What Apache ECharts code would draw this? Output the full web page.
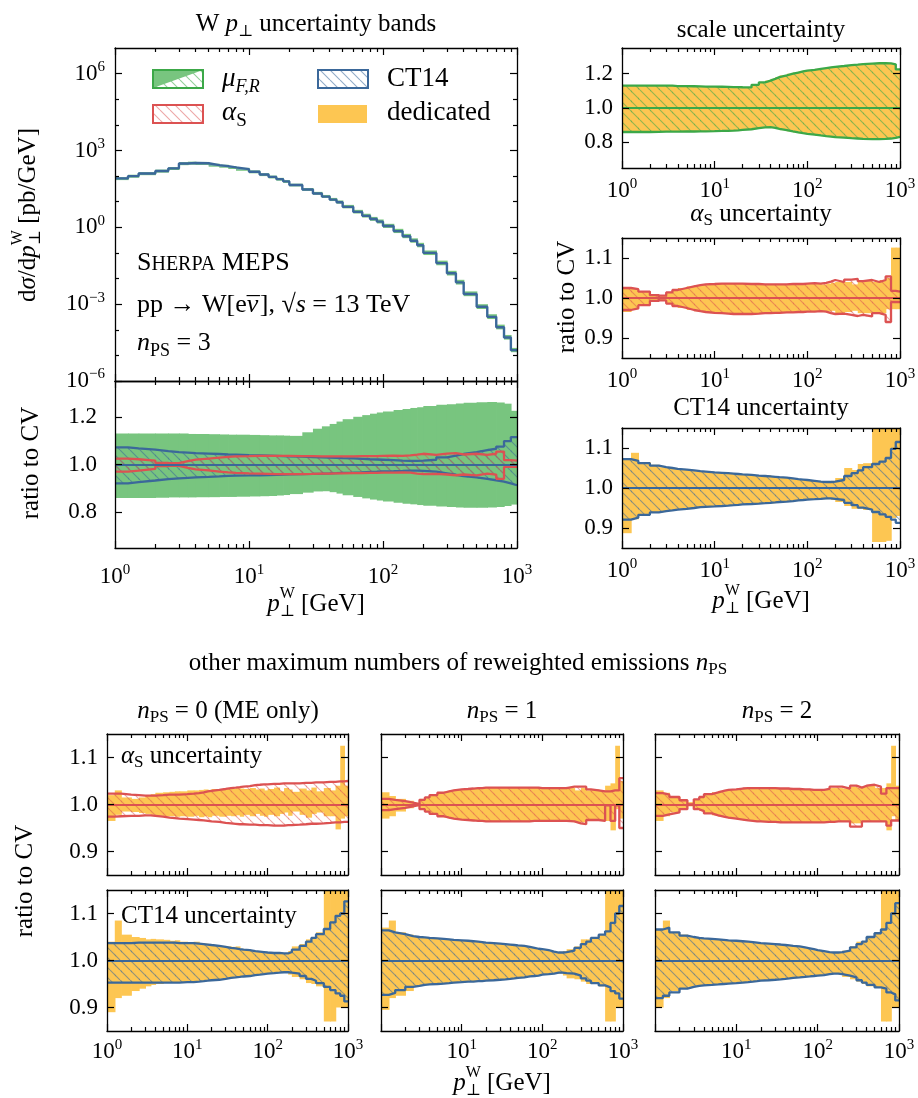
<!DOCTYPE html>
<html><head><meta charset="utf-8">
<script src="https://cdn.jsdelivr.net/npm/echarts@6.0.0/dist/echarts.min.js"></script>
<style>html,body{margin:0;padding:0;background:#fff}#c{width:918px;height:1098px}</style>
</head><body><div id="c"></div><script>
// ---------------- DATA ----------------
const edges = [1,1.25,1.5,2,2.5,3,3.5,4,5,6,7,8,10,12,14,16,18,20,25,30,35,40,45,50,60,70,80,90,100,120,140,160,180,200,250,300,350,400,500,600,700,800,900,1000];
const xMajorTicks = [1,10,100,1000];
const xMinorTicks = [2,3,4,5,6,7,8,9,20,30,40,50,60,70,80,90,200,300,400,500,600,700,800,900];
const yMainMajor = [1e-6,1e-3,1,1e3,1e6];
const yMainMinor = [1e-5,1e-4,1e-2,1e-1,10,100,1e4,1e5];
const yWideTicks = [0.8,1.0,1.2];
const yNarrowTicks = [0.9,1.0,1.1];

// cross section (pb/GeV), n_PS = 3
const xsec = [81,100,126,158,200,309,324,316,269,245,219,186,148,115,93,76,62,45,30,21,15.8,12,9.5,6.3,4.0,2.8,2.1,1.66,1.12,0.71,0.45,0.3,0.2,0.1,0.04,0.016,0.0071,0.0025,7.9e-4,3.2e-4,1.26e-4,5.0e-5,1.6e-5];

// n_PS = 3
const scaleHi3 = [1.13,1.13,1.13,1.13,1.13,1.13,1.128,1.128,1.127,1.126,1.125,1.125,1.124,1.123,1.122,1.122,1.121,1.12,1.135,1.15,1.16,1.17,1.18,1.19,1.2,1.207,1.213,1.218,1.222,1.228,1.233,1.237,1.24,1.245,1.25,1.253,1.256,1.259,1.261,1.262,1.26,1.255,1.225];
const scaleLo3 = [0.86,0.86,0.86,0.861,0.862,0.862,0.862,0.863,0.863,0.864,0.864,0.865,0.866,0.867,0.868,0.87,0.872,0.876,0.882,0.887,0.888,0.884,0.878,0.871,0.864,0.858,0.853,0.849,0.845,0.84,0.836,0.833,0.83,0.827,0.824,0.822,0.82,0.819,0.819,0.82,0.822,0.826,0.832];
const dedScaleHi3 = [1.13,1.13,1.13,1.13,1.13,1.13,1.128,1.128,1.127,1.126,1.125,1.125,1.124,1.123,1.122,1.122,1.121,1.12,1.135,1.15,1.16,1.17,1.18,1.19,1.2,1.207,1.213,1.218,1.222,1.228,1.233,1.237,1.24,1.245,1.25,1.253,1.256,1.259,1.261,1.262,1.26,1.255,1.225];
const dedScaleLo3 = [0.86,0.86,0.86,0.861,0.862,0.862,0.862,0.863,0.863,0.864,0.864,0.865,0.866,0.867,0.868,0.87,0.872,0.876,0.882,0.887,0.888,0.884,0.878,0.871,0.864,0.858,0.853,0.849,0.845,0.84,0.836,0.833,0.83,0.827,0.824,0.822,0.82,0.819,0.819,0.82,0.822,0.826,0.832];
const asA3 = [1.025,1.022,1.016,1.007,0.994,0.986,0.98,0.975,0.97,0.967,0.965,0.963,0.962,0.961,0.96,0.96,0.96,0.96,0.961,0.962,0.962,0.963,0.963,0.964,0.964,0.965,0.965,0.966,0.966,0.967,0.966,0.962,0.96,0.961,0.958,0.955,0.958,0.954,0.962,0.958,0.94,0.99,0.99];
const asB3 = [0.97,0.974,0.982,0.993,1.006,1.014,1.02,1.025,1.029,1.032,1.034,1.035,1.036,1.036,1.036,1.036,1.036,1.035,1.035,1.034,1.034,1.034,1.034,1.034,1.035,1.035,1.035,1.036,1.037,1.036,1.038,1.041,1.045,1.04,1.046,1.048,1.042,1.045,1.04,1.045,1.054,1.018,1.016];
const dedAsLo3 = [0.965,0.972,0.982,0.993,0.994,0.986,0.98,0.975,0.97,0.967,0.965,0.963,0.962,0.961,0.96,0.96,0.96,0.96,0.961,0.962,0.962,0.963,0.963,0.964,0.964,0.965,0.965,0.966,0.966,0.967,0.966,0.966,0.968,0.961,0.965,0.968,0.962,0.962,0.962,0.962,0.972,0.972,0.972];
const dedAsHi3 = [1.027,1.024,1.017,1.008,1.006,1.014,1.02,1.025,1.029,1.032,1.034,1.035,1.036,1.036,1.036,1.036,1.036,1.035,1.035,1.034,1.034,1.034,1.034,1.034,1.035,1.035,1.035,1.036,1.037,1.036,1.034,1.036,1.038,1.04,1.04,1.034,1.042,1.045,1.04,1.045,1.05,1.126,1.126];
const ctHi3 = [1.072,1.068,1.062,1.056,1.052,1.05,1.048,1.046,1.044,1.042,1.041,1.039,1.038,1.037,1.036,1.035,1.034,1.033,1.031,1.03,1.029,1.028,1.027,1.026,1.024,1.022,1.021,1.02,1.018,1.016,1.015,1.015,1.016,1.02,1.03,1.037,1.044,1.052,1.06,1.066,1.075,1.098,1.115];
const ctLo3 = [0.921,0.926,0.933,0.939,0.942,0.944,0.946,0.948,0.95,0.952,0.953,0.954,0.955,0.956,0.957,0.958,0.959,0.96,0.961,0.962,0.963,0.964,0.965,0.966,0.967,0.969,0.97,0.971,0.972,0.973,0.974,0.974,0.973,0.97,0.963,0.957,0.951,0.946,0.94,0.934,0.928,0.921,0.913];
const dedCtLo3 = [0.887,0.922,0.935,0.938,0.942,0.944,0.946,0.948,0.95,0.952,0.953,0.954,0.955,0.956,0.957,0.958,0.959,0.96,0.961,0.962,0.963,0.962,0.965,0.966,0.967,0.969,0.97,0.971,0.972,0.973,0.972,0.972,0.97,0.965,0.955,0.948,0.948,0.945,0.865,0.865,0.868,0.925,0.93];
const dedCtHi3 = [1.072,1.088,1.065,1.058,1.052,1.05,1.048,1.046,1.044,1.042,1.041,1.039,1.038,1.037,1.036,1.035,1.034,1.033,1.031,1.03,1.032,1.028,1.027,1.026,1.024,1.022,1.021,1.02,1.018,1.016,1.015,1.015,1.018,1.025,1.05,1.045,1.06,1.062,1.15,1.15,1.15,1.15,1.15];

// n_PS = 0
const asHi0 = [1.023,1.023,1.021,1.02,1.019,1.019,1.019,1.02,1.021,1.021,1.021,1.022,1.023,1.024,1.026,1.028,1.029,1.031,1.033,1.035,1.036,1.037,1.038,1.039,1.041,1.042,1.043,1.043,1.044,1.044,1.045,1.045,1.045,1.045,1.046,1.046,1.047,1.047,1.048,1.048,1.049,1.049,1.05];
const asLo0 = [0.974,0.975,0.976,0.976,0.977,0.977,0.976,0.974,0.972,0.971,0.97,0.969,0.968,0.967,0.966,0.965,0.964,0.963,0.961,0.96,0.959,0.958,0.958,0.957,0.957,0.956,0.956,0.956,0.955,0.955,0.955,0.956,0.956,0.957,0.958,0.959,0.959,0.96,0.961,0.962,0.962,0.963,0.963];
const dedAsHi0 = [1.02,1.03,1.015,1.012,1.015,1.02,1.022,1.025,1.026,1.027,1.028,1.028,1.03,1.03,1.031,1.032,1.031,1.033,1.032,1.034,1.033,1.035,1.034,1.033,1.035,1.032,1.034,1.03,1.033,1.036,1.028,1.035,1.032,1.027,1.034,1.03,1.036,1.028,1.035,1.03,1.04,1.125,1.04];
const dedAsLo0 = [0.965,0.978,0.985,0.984,0.982,0.98,0.978,0.976,0.975,0.975,0.974,0.975,0.974,0.976,0.973,0.975,0.973,0.976,0.974,0.976,0.975,0.977,0.974,0.978,0.975,0.98,0.976,0.974,0.978,0.975,0.98,0.983,0.976,0.985,0.978,0.972,0.98,0.983,0.975,0.975,0.947,0.97,0.975];
const ctHi0 = [1.037,1.037,1.037,1.038,1.038,1.038,1.038,1.038,1.038,1.038,1.037,1.037,1.037,1.036,1.035,1.034,1.033,1.031,1.029,1.027,1.026,1.024,1.023,1.022,1.02,1.019,1.018,1.017,1.016,1.016,1.015,1.015,1.018,1.023,1.031,1.04,1.048,1.056,1.067,1.081,1.095,1.1,1.126];
const ctLo0 = [0.953,0.953,0.953,0.953,0.953,0.953,0.953,0.953,0.953,0.953,0.953,0.954,0.954,0.955,0.956,0.957,0.958,0.959,0.961,0.963,0.964,0.965,0.966,0.967,0.969,0.97,0.971,0.972,0.973,0.974,0.975,0.975,0.974,0.972,0.967,0.961,0.957,0.952,0.944,0.937,0.93,0.925,0.913];
const dedCtHi0 = [1.04,1.085,1.055,1.05,1.048,1.045,1.046,1.045,1.044,1.042,1.043,1.04,1.038,1.04,1.037,1.036,1.034,1.033,1.031,1.03,1.029,1.03,1.025,1.023,1.022,1.02,1.018,1.017,1.016,1.016,1.015,1.015,1.02,1.03,1.035,1.045,1.05,1.06,1.15,1.15,1.15,1.15,1.15];
const dedCtLo0 = [0.89,0.92,0.925,0.935,0.94,0.945,0.948,0.95,0.952,0.953,0.953,0.953,0.954,0.955,0.956,0.957,0.958,0.959,0.961,0.963,0.964,0.965,0.966,0.967,0.969,0.97,0.971,0.972,0.973,0.974,0.975,0.975,0.97,0.965,0.96,0.952,0.95,0.945,0.87,0.87,0.9,0.9,0.9];

// n_PS = 1
const asA1 = [1.012,1.01,1.007,1.004,1.001,0.99,0.985,0.98,0.975,0.972,0.97,0.968,0.967,0.966,0.965,0.965,0.964,0.964,0.964,0.964,0.964,0.964,0.964,0.964,0.964,0.965,0.965,0.965,0.965,0.965,0.965,0.965,0.965,0.964,0.96,0.958,0.967,0.967,0.965,0.998,0.965,0.998,0.95];
const asB1 = [0.988,0.99,0.993,0.996,0.999,1.01,1.015,1.02,1.025,1.028,1.03,1.032,1.033,1.034,1.035,1.035,1.036,1.036,1.036,1.036,1.036,1.036,1.036,1.036,1.036,1.036,1.036,1.035,1.035,1.035,1.035,1.035,1.035,1.038,1.038,1.038,1.032,1.03,1.028,1.028,1.03,1.03,1.056];
const dedAsHi1 = [1.026,1.018,1.012,1.008,1.004,1.012,1.016,1.02,1.025,1.028,1.03,1.032,1.033,1.034,1.035,1.035,1.036,1.036,1.036,1.036,1.036,1.036,1.036,1.036,1.036,1.036,1.036,1.035,1.035,1.035,1.035,1.035,1.035,1.035,1.03,1.035,1.03,1.032,1.03,1.04,1.045,1.125,1.05];
const dedAsLo1 = [0.97,0.975,0.985,0.992,0.996,0.99,0.985,0.98,0.975,0.972,0.97,0.968,0.967,0.966,0.965,0.965,0.964,0.964,0.964,0.964,0.964,0.964,0.964,0.964,0.964,0.965,0.965,0.965,0.965,0.965,0.965,0.965,0.965,0.964,0.962,0.962,0.967,0.967,0.965,0.965,0.945,0.99,0.97];
const ctHi1 = [1.064,1.06,1.056,1.052,1.05,1.049,1.048,1.047,1.046,1.045,1.044,1.043,1.042,1.041,1.04,1.039,1.038,1.037,1.036,1.035,1.034,1.033,1.032,1.031,1.029,1.027,1.025,1.024,1.022,1.019,1.017,1.017,1.018,1.021,1.027,1.035,1.04,1.048,1.055,1.062,1.08,1.1,1.116];
const ctLo1 = [0.927,0.931,0.937,0.944,0.946,0.948,0.949,0.95,0.951,0.952,0.953,0.954,0.955,0.955,0.956,0.956,0.957,0.958,0.959,0.96,0.961,0.962,0.963,0.964,0.966,0.967,0.968,0.97,0.971,0.972,0.974,0.974,0.973,0.972,0.968,0.962,0.957,0.952,0.947,0.943,0.935,0.93,0.919];
const dedCtHi1 = [1.07,1.085,1.06,1.055,1.05,1.05,1.049,1.048,1.047,1.046,1.045,1.044,1.043,1.041,1.04,1.039,1.038,1.037,1.036,1.035,1.034,1.035,1.032,1.031,1.029,1.027,1.025,1.024,1.022,1.019,1.017,1.017,1.02,1.024,1.03,1.045,1.045,1.05,1.055,1.15,1.15,1.15,1.15];
const dedCtLo1 = [0.895,0.92,0.925,0.935,0.945,0.948,0.949,0.95,0.951,0.952,0.953,0.954,0.955,0.955,0.956,0.956,0.957,0.958,0.959,0.96,0.961,0.962,0.963,0.964,0.966,0.967,0.968,0.97,0.971,0.972,0.972,0.972,0.968,0.962,0.96,0.955,0.95,0.95,0.945,0.87,0.87,0.9,0.9];

// n_PS = 2
const asA2 = [1.024,1.021,1.016,1.009,1.0,0.99,0.986,0.981,0.977,0.974,0.972,0.97,0.968,0.966,0.965,0.964,0.964,0.963,0.963,0.962,0.962,0.962,0.962,0.962,0.962,0.962,0.962,0.962,0.962,0.963,0.963,0.964,0.964,0.964,0.953,0.953,0.964,0.964,0.964,0.964,0.955,0.966,0.966];
const asB2 = [0.976,0.979,0.983,0.99,0.999,1.011,1.016,1.022,1.026,1.029,1.031,1.032,1.034,1.035,1.035,1.035,1.035,1.035,1.035,1.034,1.034,1.034,1.033,1.033,1.032,1.032,1.031,1.031,1.031,1.033,1.038,1.038,1.038,1.034,1.04,1.036,1.04,1.042,1.038,1.023,1.035,1.035,1.035];
const dedAsHi2 = [1.03,1.025,1.018,1.01,1.005,1.011,1.016,1.022,1.026,1.029,1.031,1.032,1.034,1.035,1.035,1.035,1.035,1.035,1.035,1.034,1.034,1.034,1.033,1.033,1.032,1.032,1.031,1.031,1.031,1.033,1.035,1.035,1.035,1.034,1.038,1.036,1.038,1.04,1.035,1.035,1.045,1.125,1.04];
const dedAsLo2 = [0.965,0.975,0.983,0.99,0.996,0.99,0.986,0.981,0.977,0.974,0.972,0.97,0.968,0.966,0.965,0.964,0.964,0.963,0.963,0.962,0.962,0.962,0.962,0.962,0.962,0.962,0.962,0.962,0.962,0.963,0.963,0.964,0.964,0.964,0.96,0.96,0.964,0.964,0.964,0.964,0.945,0.975,0.966];
const ctHi2 = [1.066,1.07,1.06,1.053,1.05,1.048,1.047,1.046,1.045,1.044,1.043,1.042,1.041,1.04,1.039,1.038,1.037,1.036,1.035,1.034,1.033,1.032,1.031,1.03,1.028,1.026,1.024,1.022,1.02,1.018,1.017,1.017,1.018,1.021,1.028,1.035,1.04,1.05,1.058,1.066,1.08,1.1,1.122];
const ctLo2 = [0.92,0.925,0.932,0.94,0.944,0.946,0.947,0.948,0.949,0.95,0.951,0.952,0.953,0.954,0.955,0.956,0.957,0.958,0.959,0.96,0.961,0.962,0.963,0.964,0.965,0.966,0.967,0.968,0.969,0.971,0.972,0.972,0.971,0.968,0.964,0.958,0.953,0.948,0.943,0.94,0.932,0.928,0.915];
const dedCtHi2 = [1.066,1.085,1.06,1.055,1.05,1.048,1.047,1.046,1.045,1.044,1.043,1.042,1.041,1.04,1.039,1.038,1.037,1.036,1.035,1.034,1.033,1.032,1.031,1.03,1.028,1.026,1.024,1.022,1.02,1.018,1.017,1.017,1.018,1.021,1.03,1.04,1.04,1.05,1.058,1.15,1.15,1.15,1.15];
const dedCtLo2 = [0.9,0.92,0.935,0.94,0.944,0.946,0.947,0.948,0.949,0.95,0.951,0.952,0.953,0.954,0.955,0.956,0.957,0.958,0.959,0.96,0.961,0.962,0.963,0.964,0.965,0.966,0.967,0.968,0.969,0.971,0.972,0.972,0.97,0.965,0.96,0.955,0.95,0.945,0.943,0.87,0.87,0.9,0.9];

// ---------------- STYLE ----------------
const FAM = '"Liberation Serif", "DejaVu Serif", serif';
const COL = {yellow:'#fdc652', gfill:'#78c57f', green:'#3ca848', red:'#dc5252', blue:'#3b689a'};
function hatchCanvas(color){
  const s=10, c=document.createElement('canvas'); c.width=s; c.height=s;
  const g=c.getContext('2d'); g.strokeStyle=color; g.lineWidth=1.1; g.beginPath();
  for (const k of [-1,0,1]) { g.moveTo(k*s,0); g.lineTo(k*s+s,s); }
  g.stroke(); return c;
}
const PAT = {
  blue:{image:hatchCanvas('rgba(59,104,154,0.55)'), repeat:'repeat'},
  red:{image:hatchCanvas('rgba(220,82,82,0.5)'), repeat:'repeat'},
  green:{image:hatchCanvas('rgba(60,168,72,0.55)'), repeat:'repeat'}
};

const grids = [
  {left:115, top:48, width:402, height:333},
  {left:115, top:381, width:402, height:167},
  {left:622, top:48, width:278, height:120},
  {left:622, top:238, width:278, height:120},
  {left:622, top:428, width:278, height:120},
  {left:107, top:734, width:241, height:141},
  {left:381, top:734, width:242, height:141},
  {left:655, top:734, width:244, height:141},
  {left:107, top:890, width:241, height:141},
  {left:381, top:890, width:242, height:141},
  {left:655, top:890, width:244, height:141}
];
const PANEL = [
  {ylog:true, xl:null, ylab:true, ym:10},
  {yr:[0.65,1.35], yt:yWideTicks, xl:xMajorTicks, xm:15, ylab:true, ym:18},
  {yr:[0.65,1.35], yt:yWideTicks, xl:xMajorTicks, xm:9, ylab:true, ym:9},
  {yr:[0.85,1.15], yt:yNarrowTicks, xl:xMajorTicks, xm:9, ylab:true, ym:9},
  {yr:[0.85,1.15], yt:yNarrowTicks, xl:xMajorTicks, xm:9, ylab:true, ym:9},
  {yr:[0.85,1.15], yt:yNarrowTicks, xl:null, ylab:true, ym:9},
  {yr:[0.85,1.15], yt:yNarrowTicks, xl:null, ylab:false},
  {yr:[0.85,1.15], yt:yNarrowTicks, xl:null, ylab:false},
  {yr:[0.85,1.15], yt:yNarrowTicks, xl:xMajorTicks, xm:7, ylab:true, ym:9},
  {yr:[0.85,1.15], yt:yNarrowTicks, xl:[10,100,1000], xm:7, ylab:false},
  {yr:[0.85,1.15], yt:yNarrowTicks, xl:[10,100,1000], xm:7, ylab:false}
];
const RICH = {
  b:{fontFamily:FAM, fontSize:23, color:'#000'},
  s:{fontFamily:FAM, fontSize:15, color:'#000', padding:[0,0,13,0]}
};
function fmtPow(v){ const e=Math.round(Math.log10(v)); return '{b|10}{s|'+String(e).replace('-','\u2212')+'}'; }
function fmtDec(v){ return '{b|'+Number(v).toFixed(1)+'}'; }

const TICK = {color:'#000', width:1.2};
function mkX(g,pos,ticks,len,labels,margin,line){
  return {type:'log', logBase:10, gridIndex:g, position:pos, min:1, max:1000, z:10,
    axisLine:{show:line, onZero:false, lineStyle:{color:'#000', width:1.3}},
    axisTick:{show:true, inside:true, length:len, customValues:ticks, lineStyle:TICK},
    minorTick:{show:false}, splitLine:{show:false}, minorSplitLine:{show:false},
    axisLabel: labels ? {show:true, customValues:labels, margin:margin, formatter:fmtPow, rich:RICH, color:'#000'} : {show:false}};
}
function mkY(g,pos,cfg,ticks,len,labels,line){
  const a = {gridIndex:g, position:pos, z:10,
    axisLine:{show:line, onZero:false, lineStyle:{color:'#000', width:1.3}},
    axisTick:{show:ticks.length>0, inside:true, length:len, customValues:ticks.length?ticks:undefined, lineStyle:TICK},
    minorTick:{show:false}, splitLine:{show:false}, minorSplitLine:{show:false},
    axisLabel: labels ? {show:true, customValues:ticks, margin:cfg.ym, formatter: cfg.ylog?fmtPow:fmtDec, rich:RICH, color:'#000'} : {show:false}};
  if (cfg.ylog) { a.type='log'; a.logBase=10; a.min=1e-6; a.max=1e7; }
  else { a.type='value'; a.min=cfg.yr[0]; a.max=cfg.yr[1]; a.scale=true; }
  return a;
}
const xAxes=[], yAxes=[];
grids.forEach((gr,g)=>{
  const c=PANEL[g];
  xAxes.push(mkX(g,'bottom',xMajorTicks,7,c.xl,c.xm,true));
  xAxes.push(mkX(g,'bottom',xMinorTicks,4,null,0,false));
  xAxes.push(mkX(g,'top',xMajorTicks,7,null,0,true));
  xAxes.push(mkX(g,'top',xMinorTicks,4,null,0,false));
  const maj = c.ylog ? yMainMajor : c.yt;
  const mino = c.ylog ? yMainMinor : [];
  yAxes.push(mkY(g,'left',c,maj,7,c.ylab,true));
  yAxes.push(mkY(g,'right',c,maj,7,false,true));
  yAxes.push(mkY(g,'left',c,mino,4,false,false));
  yAxes.push(mkY(g,'right',c,mino,4,false,false));
});

// ---------------- SERIES ----------------
const series=[];
function bins(lo,hi){ return lo.map((v,i)=>[edges[i],edges[i+1],lo[i],hi[i]]); }
function band(g,lo,hi,fill,z){
  series.push({type:'custom', xAxisIndex:4*g, yAxisIndex:4*g, z:z, silent:true, animation:false,
    encode:{x:[0,1], y:[2,3]}, data:bins(lo,hi),
    renderItem:function(params, api){
      const a=api.value(2), b=api.value(3);
      const p0=api.coord([api.value(0), Math.max(a,b)]);
      const p1=api.coord([api.value(1), Math.min(a,b)]);
      const cs=params.coordSys;
      const top=Math.max(p0[1], cs.y), bot=Math.min(p1[1], cs.y+cs.height);
      if (!(bot>top)) return null;
      const x0=Math.max(p0[0], cs.x), x1=Math.min(p1[0]+0.7, cs.x+cs.width);
      return {type:'rect', shape:{x:x0, y:top, width:x1-x0, height:bot-top}, style:{fill:fill}};
    }});
}
function stepPts(v){ const p=v.map((y,i)=>[edges[i],y]); p.push([edges[v.length], v[v.length-1]]); return p; }
function stepLine(g,v,color,w,z,center){
  const s={type:'line', xAxisIndex:4*g, yAxisIndex:4*g, data:stepPts(v), step:'end', symbol:'none', showSymbol:false,
    lineStyle:{color:color, width:w}, z:z, silent:true, animation:false, clip:true};
  if (center) s.markLine={silent:true, symbol:['none','none'], label:{show:false}, animation:false,
    lineStyle:{color:center, width:2.2, type:'solid'}, data:[{yAxis:1}]};
  series.push(s);
}
const LW = 2.3;
// main panel
band(0, xsec.map((v,i)=>v*scaleLo3[i]), xsec.map((v,i)=>v*scaleHi3[i]), COL.gfill, 1);
band(0, xsec.map((v,i)=>v*ctLo3[i]), xsec.map((v,i)=>v*ctHi3[i]), 'rgba(120,160,205,0.7)', 2);
stepLine(0, xsec, COL.blue, 2.4, 4);
// main ratio
band(1, scaleLo3, scaleHi3, COL.gfill, 1);
band(1, ctLo3, ctHi3, PAT.blue, 2);
band(1, asA3, asB3, PAT.red, 2);
stepLine(1, ctHi3, COL.blue, LW, 3);
stepLine(1, ctLo3, COL.blue, LW, 3);
stepLine(1, asA3, COL.red, LW, 3);
stepLine(1, asB3, COL.red, LW, 3, COL.blue);
// right column
band(2, dedScaleLo3, dedScaleHi3, COL.yellow, 1);
band(2, scaleLo3, scaleHi3, PAT.green, 2);
stepLine(2, scaleHi3, COL.green, LW, 3);
stepLine(2, scaleLo3, COL.green, LW, 3, COL.green);
band(3, dedAsLo3, dedAsHi3, COL.yellow, 1);
band(3, asA3, asB3, PAT.red, 2);
stepLine(3, asA3, COL.red, LW, 3);
stepLine(3, asB3, COL.red, LW, 3, COL.red);
band(4, dedCtLo3, dedCtHi3, COL.yellow, 1);
band(4, ctLo3, ctHi3, PAT.blue, 2);
stepLine(4, ctHi3, COL.blue, LW, 3);
stepLine(4, ctLo3, COL.blue, LW, 3, COL.blue);
// bottom rows
const AS = [[asLo0,asHi0,dedAsLo0,dedAsHi0],[asA1,asB1,dedAsLo1,dedAsHi1],[asA2,asB2,dedAsLo2,dedAsHi2]];
const CT = [[ctLo0,ctHi0,dedCtLo0,dedCtHi0],[ctLo1,ctHi1,dedCtLo1,dedCtHi1],[ctLo2,ctHi2,dedCtLo2,dedCtHi2]];
AS.forEach((d,k)=>{ const g=5+k;
  band(g, d[2], d[3], COL.yellow, 1); band(g, d[0], d[1], PAT.red, 2);
  stepLine(g, d[0], COL.red, LW, 3); stepLine(g, d[1], COL.red, LW, 3, COL.red); });
CT.forEach((d,k)=>{ const g=8+k;
  band(g, d[2], d[3], COL.yellow, 1); band(g, d[0], d[1], PAT.blue, 2);
  stepLine(g, d[0], COL.blue, LW, 3); stepLine(g, d[1], COL.blue, LW, 3, COL.blue); });

// ---------------- TEXT ----------------
const mctx=document.createElement('canvas').getContext('2d');
function fnt(sz,it){ return (it?'italic ':'')+sz+'px '+FAM; }
function tw(t,sz,it){ mctx.font=fnt(sz,it); return mctx.measureText(t).width; }
function mtext(pieces,x,y,align,rot){
  let cx=0,lastX=0,lastW=0; const kids=[];
  pieces.forEach(p=>{
    const t=p[0],sz=p[1],it=p[2],dy=p[3]||0,back=p[4];
    const w=tw(t,sz,it); let px;
    if (back) { px=lastX; cx=lastX+Math.max(lastW,w); }
    else { px=cx; lastX=cx; lastW=w; cx+=w; }
    kids.push({type:'text', x:px, y:dy, silent:true, style:{text:t, font:fnt(sz,it), fill:'#000', verticalAlign:'middle', align:'left'}});
  });
  const off = align==='center' ? -cx/2 : (align==='right' ? -cx : 0);
  kids.forEach(k=>{ k.x+=off; });
  return {type:'group', x:x, y:y, rotation:rot||0, children:kids, silent:true};
}
const T=25, Ts=17, Tss=16;
const ptW = [['p',T,true],['\u22A5',Tss,false,8],['W',Tss,false,-10,true],[' [GeV]',T]];
const graphics = [
  mtext([['W ',T],['p',T,true],['\u22A5',Tss,false,8],[' uncertainty bands',T]], 316, 24, 'center'),
  mtext([['scale uncertainty',T]], 761, 30, 'center'),
  mtext([['\u03B1',T,true],['S',Ts,false,7],[' uncertainty',T]], 761, 214, 'center'),
  mtext([['CT14 uncertainty',T]], 761, 408, 'center'),
  mtext([['other maximum numbers of reweighted emissions ',T],['n',T,true],['PS',Ts,false,7]], 458, 663, 'center'),
  mtext([['n',T,true],['PS',Ts,false,7],[' = 0 (ME only)',T]], 228, 711, 'center'),
  mtext([['n',T,true],['PS',Ts,false,7],[' = 1',T]], 502, 711, 'center'),
  mtext([['n',T,true],['PS',Ts,false,7],[' = 2',T]], 777, 711, 'center'),
  mtext([['\u03B1',T,true],['S',Ts,false,7],[' uncertainty',T]], 121, 756, 'left'),
  mtext([['CT14 uncertainty',T]], 121, 916, 'left'),
  mtext([['S',26],['HERPA',20,false,2],[' MEPS',26]], 137, 263, 'left'),
  mtext([['pp \u2192 W[e',26],['\u03BD',26,true],['\u00AF',26,false,2,true],['], ',26],['\u221A',26],['s',26,true],[' = 13 TeV',26]], 137, 305, 'left'),
  mtext([['n',26,true],['PS',18,false,8],[' = 3',26]], 137, 343, 'left'),
  mtext([['d',T],['\u03C3',T,true],['/d',T],['p',T,true],['\u22A5',Tss,false,8],['W',Tss,false,-10,true],[' [pb/GeV]',T]], 28, 215, 'center', Math.PI/2),
  mtext([['ratio to CV',T]], 31, 463, 'center', Math.PI/2),
  mtext([['ratio to CV',T]], 567, 297, 'center', Math.PI/2),
  mtext([['ratio to CV',T]], 25, 881, 'center', Math.PI/2),
  mtext(ptW, 316, 604, 'center'),
  mtext(ptW, 761, 601, 'center'),
  mtext(ptW, 502, 1083, 'center'),
  // legend
  {type:'rect', shape:{x:153,y:70,width:50,height:18}, style:{fill:PAT.green, stroke:null}, silent:true},
  {type:'polygon', shape:{points:[[153,70],[203,70],[153,88]]}, style:{fill:COL.gfill}, silent:true},
  {type:'rect', shape:{x:153,y:70,width:50,height:18}, style:{fill:null, stroke:COL.green, lineWidth:2}, silent:true},
  {type:'rect', shape:{x:153,y:105,width:50,height:18}, style:{fill:PAT.red, stroke:COL.red, lineWidth:2}, silent:true},
  {type:'rect', shape:{x:318,y:70,width:50,height:18}, style:{fill:PAT.blue, stroke:COL.blue, lineWidth:2}, silent:true},
  {type:'rect', shape:{x:318,y:105,width:49,height:18}, style:{fill:COL.yellow}, silent:true},
  mtext([['\u03BC',27,true],['F,R',18,true,8]], 222, 79, 'left'),
  mtext([['\u03B1',27,true],['S',19,false,8]], 222, 113, 'left'),
  mtext([['CT14',27]], 387, 79, 'left'),
  mtext([['dedicated',27]], 387, 113, 'left')
];

const chart = echarts.init(document.getElementById('c'), null, {renderer:'canvas'});
chart.setOption({
  animation:false,
  backgroundColor:'#ffffff',
  grid: grids.map(g=>Object.assign({show:false, containLabel:false, outerBoundsMode:'none'}, g)),
  xAxis: xAxes,
  yAxis: yAxes,
  series: series,
  graphic: {elements: graphics}
});
</script></body></html>
